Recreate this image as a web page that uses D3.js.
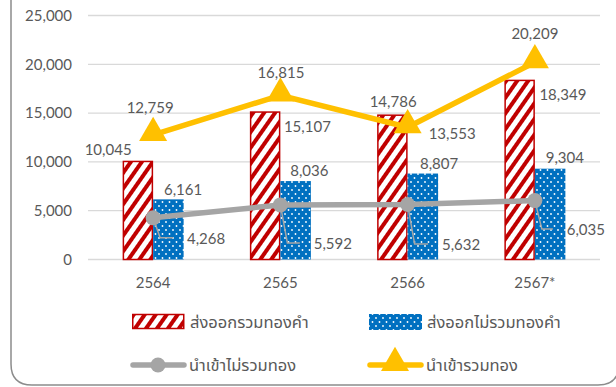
<!DOCTYPE html>
<html>
<head>
<meta charset="utf-8">
<script src="https://cdn.jsdelivr.net/npm/d3@7/dist/d3.min.js"></script>
<style>
  html, body { margin: 0; padding: 0; background: #fff; }
  svg { display: block; }
  text { font-family: Lato, "Noto Sans Thai", "Noto Sans", sans-serif; fill: #595959; }
</style>
</head>
<body>
<svg id="chart" width="616" height="387"></svg>
<script>
// Years (Buddhist era), * = preliminary
const years = ["2564", "2565", "2566", "2567*"];
// Values (million USD)
const exportInclGold = [10045, 15107, 14786, 18349];
const exportExclGold = [6161, 8036, 8807, 9304];
const importExclGold = [4268, 5592, 5632, 6035];
const importInclGold = [12759, 16815, 13553, 20209];
const yTicks = [0, 5000, 10000, 15000, 20000, 25000];
const seriesNames = ["ส่งออกรวมทองคำ", "ส่งออกไม่รวมทองคำ", "นำเข้าไม่รวมทอง", "นำเข้ารวมทอง"];

// Label offsets (dx, dy) from the category centre and the mark's value
const labelOffRed = [[-45, -12.5], [27, 14], [-14.5, -14], [28, 14]];
const labelOffBlue = [[30, -10.5], [29, -11], [31.5, -10.5], [30, -11.5]];
const labelOffGray = [[53, 20], [52.5, 38], [53.5, 39.5], [51, 28.5]];
const labelOffYellow = [[-3, -28], [0.5, -23.5], [44.5, 6], [0, -29]];

const svg = d3.select("#chart");
const red = "#C00000", blue = "#0070C0", gray = "#A5A5A5", yellow = "#FFC000";

// Fill patterns
const defs = svg.append("defs");
const stripe = defs.append("pattern").attr("id", "stripes")
  .attr("patternUnits", "userSpaceOnUse").attr("width", 9).attr("height", 9)
  .attr("patternTransform", "rotate(35)");
stripe.append("rect").attr("width", 9).attr("height", 9).attr("fill", "#fff");
stripe.append("rect").attr("width", 4).attr("height", 9).attr("fill", red);

const dots = defs.append("pattern").attr("id", "dots")
  .attr("patternUnits", "userSpaceOnUse").attr("width", 7).attr("height", 8);
dots.append("rect").attr("width", 7).attr("height", 8).attr("fill", blue);
dots.append("circle").attr("cx", 1.5).attr("cy", 2).attr("r", 0.9).attr("fill", "#fff");
dots.append("circle").attr("cx", 5).attr("cy", 6).attr("r", 0.9).attr("fill", "#fff");

// Frame
svg.append("path")
  .attr("d", "M11,-5 L11,364 Q11,385 32,385 L598,385 Q619,385 619,364 L619,-5")
  .attr("fill", "none").attr("stroke", "#8C8C8C").attr("stroke-width", 1.5);

const x = d3.scaleBand().domain(years).range([89.5, 598.5]);
const y = d3.scaleLinear().domain([0, 25000]).range([259.5, 15.5]);
const bw = 30.5;
const cx = d => x(d) + x.bandwidth() / 2;
const fmt = d3.format(",");

// Grid and y-axis
const yAxis = d3.axisLeft(y).tickValues(yTicks).tickFormat(fmt).tickSize(0).tickPadding(0);
const ga = svg.append("g").attr("transform", "translate(72,0)").call(yAxis);
ga.select(".domain").remove();
ga.selectAll("text").attr("font-size", 15).attr("fill", "#595959").attr("font-family", "Lato, sans-serif");

svg.append("g").selectAll("line").data(yTicks).join("line")
  .attr("x1", 88).attr("x2", 600)
  .attr("y1", d => y(d)).attr("y2", d => y(d))
  .attr("stroke", "#D9D9D9").attr("stroke-width", 1.3);

// x-axis labels
const xAxis = d3.axisBottom(x).tickSize(0).tickPadding(0);
const gx = svg.append("g").attr("transform", "translate(0,277)").call(xAxis);
gx.select(".domain").remove();
gx.selectAll("text").attr("font-size", 15).attr("fill", "#595959").attr("font-family", "Lato, sans-serif");

// Bars
svg.append("g").selectAll("rect").data(exportInclGold).join("rect")
  .attr("x", (d, i) => cx(years[i]) - bw + 0.75)
  .attr("y", d => y(d))
  .attr("width", bw - 1.5)
  .attr("height", d => y(0) - y(d))
  .attr("fill", "url(#stripes)").attr("stroke", red).attr("stroke-width", 1.5);

svg.append("g").selectAll("rect").data(exportExclGold).join("rect")
  .attr("x", (d, i) => cx(years[i]))
  .attr("y", d => y(d))
  .attr("width", bw)
  .attr("height", d => y(0) - y(d))
  .attr("fill", "url(#dots)");

// Leader lines for the grey series labels
svg.append("g").selectAll("path").data(importExclGold).join("path")
  .attr("d", (d, i) => {
    const px = cx(years[i]), py = y(d);
    const ly = py + labelOffGray[i][1];
    const lx = px + labelOffGray[i][0] - 33;
    return `M${px},${py} L${px + 7},${ly} L${lx},${ly}`;
  })
  .attr("fill", "none").attr("stroke", gray).attr("stroke-width", 1.5);

// Lines
const line = d3.line().x((d, i) => cx(years[i])).y(d => y(d));
svg.append("path").datum(importExclGold).attr("d", line)
  .attr("fill", "none").attr("stroke", gray).attr("stroke-width", 5.5).attr("stroke-linecap", "round");
svg.append("g").selectAll("circle").data(importExclGold).join("circle")
  .attr("cx", (d, i) => cx(years[i])).attr("cy", d => y(d)).attr("r", 7.5).attr("fill", gray);

svg.append("path").datum(importInclGold).attr("d", line)
  .attr("fill", "none").attr("stroke", yellow).attr("stroke-width", 5.5).attr("stroke-linecap", "round");
const tri = d3.symbol().type(d3.symbolTriangle).size(340);
svg.append("g").selectAll("path").data(importInclGold).join("path")
  .attr("transform", (d, i) => `translate(${cx(years[i])},${y(d) - 2})`)
  .attr("d", tri).attr("fill", yellow);

// Value labels
function labels(data, offs) {
  svg.append("g").selectAll("text").data(data).join("text")
    .attr("x", (d, i) => cx(years[i]) + offs[i][0])
    .attr("y", (d, i) => y(d) + offs[i][1])
    .attr("text-anchor", "middle").attr("dominant-baseline", "central")
    .attr("font-size", 15).attr("font-family", "Lato, sans-serif")
    .text(d => fmt(d));
}
labels(exportInclGold, labelOffRed);
labels(exportExclGold, labelOffBlue);
labels(importExclGold, labelOffGray);
labels(importInclGold, labelOffYellow);

// Legend
const lg = svg.append("g");
const items = [
  { x: 132, y: 322, kind: "stripes", name: seriesNames[0] },
  { x: 369, y: 322, kind: "dots", name: seriesNames[1] },
  { x: 131, y: 365, kind: "gray", name: seriesNames[2] },
  { x: 368, y: 365, kind: "yellow", name: seriesNames[3] }
];
items.forEach(it => {
  if (it.kind === "stripes") {
    lg.append("rect").attr("x", it.x + 0.75).attr("y", it.y - 7.5).attr("width", 51).attr("height", 14)
      .attr("fill", "url(#stripes)").attr("stroke", red).attr("stroke-width", 1.5);
  } else if (it.kind === "dots") {
    lg.append("rect").attr("x", it.x).attr("y", it.y - 8).attr("width", 53).attr("height", 16)
      .attr("fill", "url(#dots)");
  } else if (it.kind === "gray") {
    lg.append("line").attr("x1", it.x + 2).attr("x2", it.x + 53).attr("y1", it.y).attr("y2", it.y)
      .attr("stroke", gray).attr("stroke-width", 5.5).attr("stroke-linecap", "round");
    lg.append("circle").attr("cx", it.x + 27).attr("cy", it.y).attr("r", 7.5).attr("fill", gray);
  } else {
    lg.append("line").attr("x1", it.x + 2).attr("x2", it.x + 53).attr("y1", it.y).attr("y2", it.y)
      .attr("stroke", yellow).attr("stroke-width", 5.5).attr("stroke-linecap", "round");
    lg.append("path").attr("transform", `translate(${it.x + 27},${it.y - 2})`).attr("d", tri).attr("fill", yellow);
  }
  lg.append("text").attr("x", it.x + 58).attr("y", it.y).attr("dominant-baseline", "central")
    .attr("font-size", 16.5).attr("fill", "#7F7F7F")
    .attr("font-family", "\"Noto Sans Thai\", \"Noto Sans\", sans-serif")
    .text(it.name);
});
</script>
</body>
</html>
